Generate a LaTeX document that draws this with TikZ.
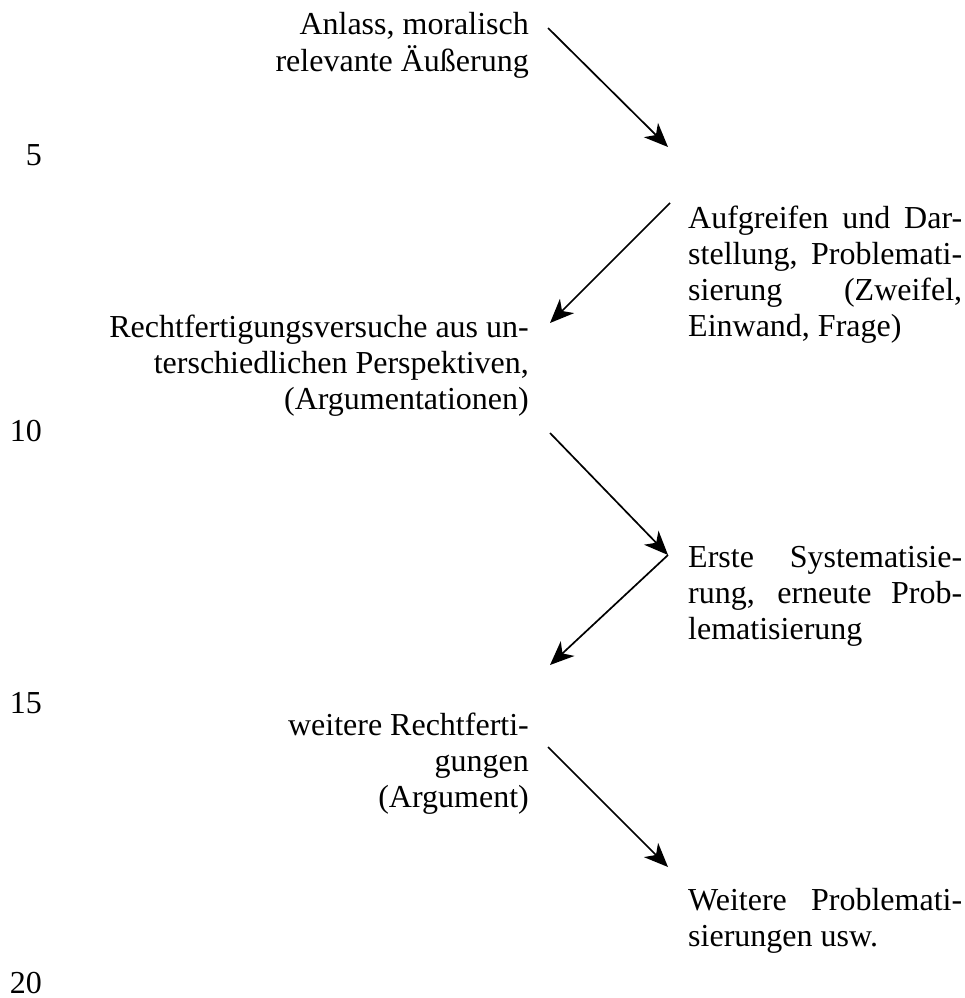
\documentclass[tikz,border=0pt]{standalone}
\usepackage{fontspec}
\setmainfont{Liberation Serif}
\usetikzlibrary{arrows.meta}
\newcommand\Rblock[1]{\vtop{\halign{\hfil##\cr#1\crcr}}}
\newcommand\Jl[1]{\hbox to 274pt{#1}}
\begin{document}
\begin{tikzpicture}[x=1pt,y=-1pt,
  txt/.style={inner sep=0pt, font=\fontsize{32}{36}\selectfont},
  lft/.style={txt, anchor=base east},
  rgt/.style={txt, anchor=base west},
  num/.style={txt, anchor=base east},
  flow/.style={line width=1.7pt, -{Stealth[length=24pt,width=20pt,inset=7pt]}}]
\useasboundingbox (0,0) rectangle (965,998);
% line numbers
\node[num] (n5)  at (42,165) {5};
\node[num] (n10) at (42,441) {10};
\node[num] (n15) at (42,713) {15};
\node[num] (n20) at (42,993) {20};
% left column
\node[lft] (l1) at (529,35) {\Rblock{Anlass, moralisch\cr relevante Äußerung}};
\node[lft] (l2) at (529,337) {\Rblock{Rechtfertigungsversuche aus un-\cr terschiedlichen Perspektiven,\cr (Argumentationen)}};
\node[lft] (l3) at (529,735) {\Rblock{weitere Rechtferti-\cr gungen\cr (Argument)}};
% right column
\node[rgt] (r1) at (688,228) {\vtop{\Jl{Aufgreifen und Dar-}\Jl{stellung, Problemati-}\Jl{sierung (Zweifel,}\Jl{Einwand, Frage)\hfil}}};
\node[rgt] (r2) at (688,567) {\vtop{\Jl{Erste Systematisie-}\Jl{rung, erneute Prob-}\Jl{lematisierung\hfil}}};
\node[rgt] (r3) at (688,910) {\vtop{\Jl{Weitere Problemati-}\Jl{sierungen usw.\hfil}}};
% arrow ends
\coordinate (a1s) at (548,28);  \coordinate (a1e) at (668,147);
\coordinate (a2s) at (670,203); \coordinate (a2e) at (550,323);
\coordinate (a3s) at (550,433); \coordinate (a3e) at (668,555);
\coordinate (a4e) at (550,665);
\coordinate (a5s) at (548,747); \coordinate (a5e) at (668,867);
\draw[flow] (a1s) -- (a1e);
\draw[flow] (a2s) -- (a2e);
\draw[flow] (a3s) -- (a3e);
\draw[flow] (a3e) -- (a4e);
\draw[flow] (a5s) -- (a5e);
\end{tikzpicture}
\end{document}
